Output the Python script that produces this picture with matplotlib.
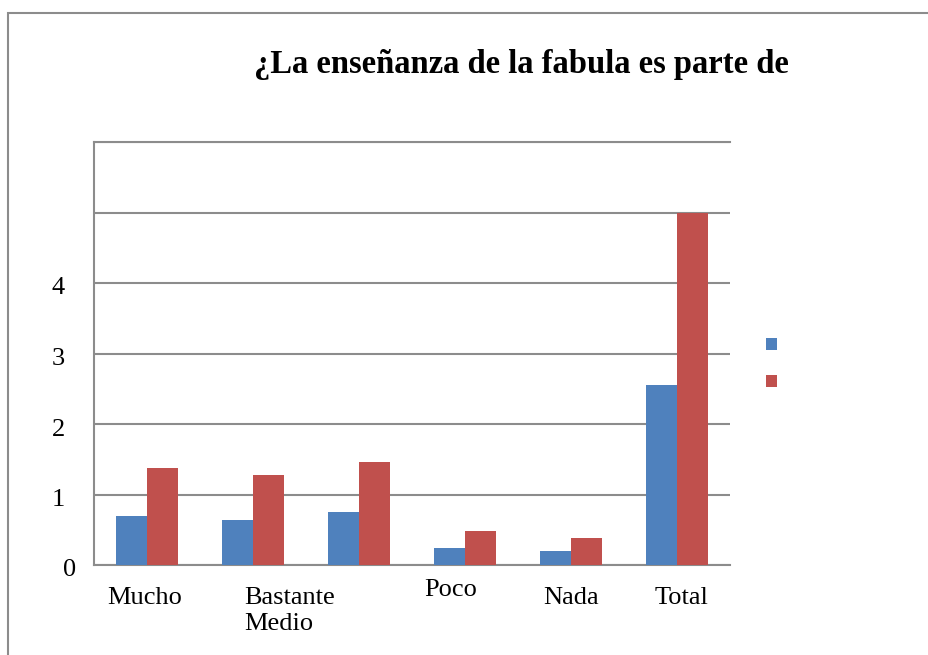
import numpy as np
import matplotlib
matplotlib.use("Agg")
import matplotlib.pyplot as plt
import matplotlib.transforms as mtransforms
from matplotlib.patches import Rectangle, Patch

# -------------------------------------------------------------------------
# Data
# -------------------------------------------------------------------------
TITLE = "¿La enseñanza de la fabula es parte de"
CATEGORIES = ["Mucho", "Bastante", "Medio", "Poco", "Nada", "Total"]
# tick labels as they show up under the bars
TICK_LABELS = ["Mucho", "Bastante\nMedio", "", "Poco", "Nada", "Total"]
SERIES_1 = [0.69, 0.64, 0.75, 0.24, 0.20, 2.55]
SERIES_2 = [1.37, 1.27, 1.46, 0.48, 0.38, 5.00]
SERIES_NAMES = [" ", " "]
Y_TICKS = [0, 1, 2, 3, 4, 5, 6]
Y_TICK_LABELS = ["0", "1", "2", "3", "4", "", ""]

BLUE = "#4F81BD"
RED = "#C0504D"
GRID = "#8C8C8C"

plt.rcParams["font.family"] = ["Liberation Serif", "DejaVu Serif"]

fig = plt.figure(figsize=(9.29, 6.55), dpi=100)
fig.patch.set_facecolor("white")

# outer frame of the chart object
fig.add_artist(Rectangle((8 / 929, -0.1), 1.2, 1 - 13 / 655 + 0.1,
                         transform=fig.transFigure, fill=False,
                         edgecolor="#8C8C8C", lw=1.5, clip_on=False))

ax = fig.add_axes([94 / 929, 1 - 565 / 655, (730 - 94) / 929, (565 - 142) / 655])

x = np.arange(len(CATEGORIES))
w = 0.29
ax.bar(x - w / 2, SERIES_1, w, color=BLUE, label=SERIES_NAMES[0], zorder=3)
ax.bar(x + w / 2, SERIES_2, w, color=RED, label=SERIES_NAMES[1], zorder=3)

ax.set_xlim(-0.5, len(CATEGORIES) - 0.5)
ax.set_ylim(0, 6)
ax.set_yticks(Y_TICKS)
ax.set_yticklabels(Y_TICK_LABELS)
ax.yaxis.grid(True, color=GRID, lw=1.5, zorder=0)
ax.set_axisbelow(True)

for side in ["left", "top", "bottom"]:
    ax.spines[side].set_color(GRID)
    ax.spines[side].set_linewidth(1.5)
ax.spines["right"].set_visible(False)

ax.tick_params(axis="y", length=0, pad=21, labelsize=19)
ax.tick_params(axis="x", length=0, pad=16, labelsize=19)
ax.set_xticks(x)
ax.set_xticklabels(TICK_LABELS)

# nudge labels to where the reference puts them (pixel offsets)
x_offsets = [(-2, 0), (37, 0), (0, 0), (-14, 8), (0, 0), (5, 0)]
for lab, (dx, dy) in zip(ax.get_xticklabels(), x_offsets):
    lab.set_multialignment("left")
    lab.set_transform(lab.get_transform() +
                      mtransforms.ScaledTranslation(dx / 100, dy / 100, fig.dpi_scale_trans))
for i, lab in enumerate(ax.get_yticklabels()):
    dx, dy = (11, -3) if i == 0 else (0, -3)
    lab.set_transform(lab.get_transform() +
                      mtransforms.ScaledTranslation(dx / 100, dy / 100, fig.dpi_scale_trans))

fig.text(521 / 929, 1 - 65 / 655, TITLE, ha="center", va="center",
         fontsize=23.5, fontweight="bold")

handles = [Patch(facecolor=BLUE), Patch(facecolor=RED)]
fig.legend(handles, SERIES_NAMES, loc="center left",
           bbox_to_anchor=(749 / 929, 1 - 365 / 655), frameon=False,
           handlelength=0.56, handleheight=0.56, labelspacing=1.0, fontsize=14)

fig.savefig("out.png", dpi=100)
